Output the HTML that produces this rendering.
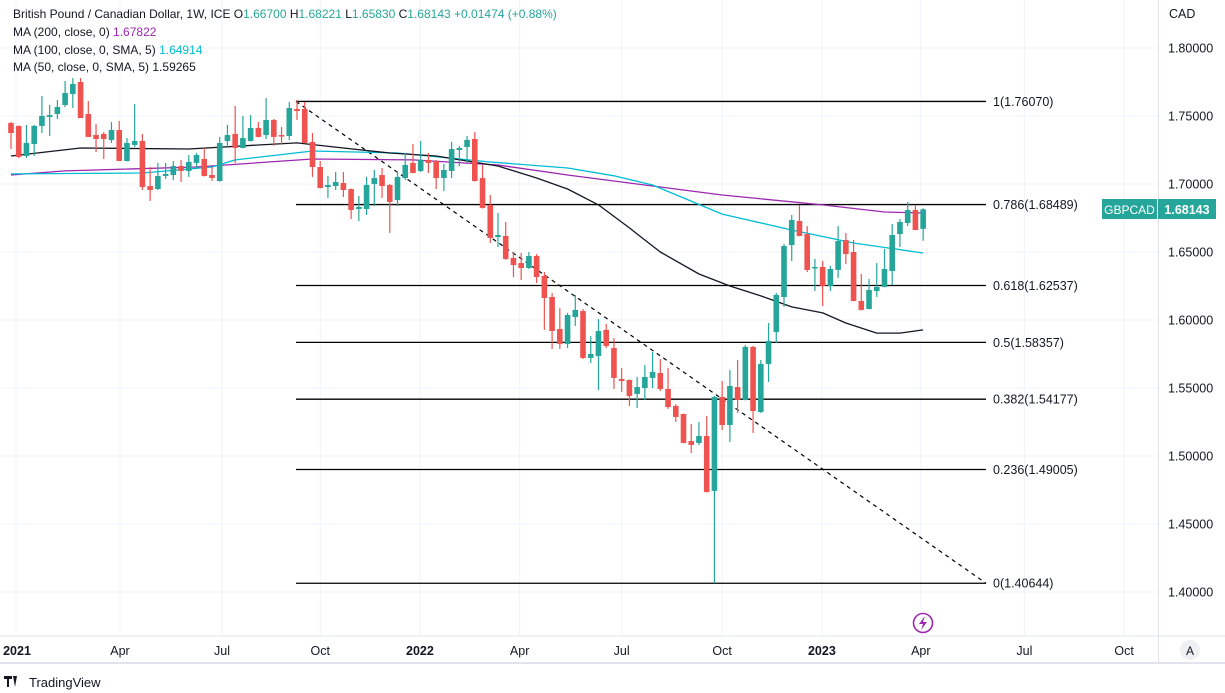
<!DOCTYPE html>
<html><head><meta charset="utf-8"><style>
html,body{margin:0;padding:0;background:#fff;width:1225px;height:693px;overflow:hidden;font-family:"Liberation Sans",sans-serif;}
svg text{font-family:"Liberation Sans",sans-serif;}
</style></head><body>
<svg id="chart" width="1225" height="693" viewBox="0 0 1225 693" xmlns="http://www.w3.org/2000/svg">
<g id="grid"></g>
<g id="fib"></g>
<g id="mas"></g>
<g id="candles"></g>
<g id="yaxis"></g>
<g id="xaxis"></g>
<g font-size="12" fill="#131722">
<text x="13" y="18">British Pound / Canadian Dollar, 1W, ICE  O<tspan fill="#26a69a">1.66700</tspan>  H<tspan fill="#26a69a">1.68221</tspan>  L<tspan fill="#26a69a">1.65830</tspan>  C<tspan fill="#26a69a">1.68143</tspan>  <tspan fill="#26a69a">+0.01474 (+0.88%)</tspan></text>
<text x="13" y="36">MA (200, close, 0)  <tspan fill="#9c27b0">1.67822</tspan></text>
<text x="13" y="54">MA (100, close, 0, SMA, 5)  <tspan fill="#00bcd4">1.64914</tspan></text>
<text x="13" y="71">MA (50, close, 0, SMA, 5)  1.59265</text>
</g>
<text x="1169" y="18" font-size="12.5" fill="#131722">CAD</text>
<rect x="1102" y="199" width="55" height="20" fill="#26a69a"/>
<text x="1129.5" y="214" font-size="12" fill="#fff" text-anchor="middle">GBPCAD</text>
<rect x="1158" y="199" width="58" height="20" fill="#26a69a"/>
<text x="1187" y="214" font-size="12.5" fill="#fff" text-anchor="middle" font-weight="bold">1.68143</text>
<g><circle cx="923" cy="623" r="9.5" fill="#fff" stroke="#9c27b0" stroke-width="1.6"/><path d="M925 616 L919 624 L923 624 L921 630 L927 622 L923 622 Z" fill="#9c27b0"/></g>
<g><circle cx="1190" cy="650" r="10" fill="#eef0f3"/><text x="1190" y="655" font-size="12" fill="#131722" text-anchor="middle">A</text></g>
<g><path d="M4 676 h8 v3 h-3 v8 h-2 v-8 h-3z M13 676 h4 l-2 11z" fill="#131722"/><text x="29" y="687" font-size="13" fill="#131722">TradingView</text></g>
</svg>
<script>
const opens=[1.7449,1.7427,1.7206,1.7294,1.7427,1.7493,1.7515,1.7581,1.7662,1.7750,1.7515,1.7360,1.7368,1.7324,1.7397,1.7169,1.7287,1.7316,1.6985,1.6963,1.7059,1.7066,1.7132,1.7096,1.7155,1.7184,1.7066,1.7022,1.7316,1.7368,1.7265,1.7316,1.7412,1.7360,1.7471,1.7360,1.7353,1.7552,1.7552,1.7309,1.7125,1.6978,1.6985,1.7007,1.6963,1.6816,1.6816,1.7000,1.7066,1.6993,1.6882,1.7044,1.7155,1.7096,1.7177,1.7169,1.7044,1.7096,1.7250,1.7272,1.7331,1.7044,1.6846,1.6610,1.6618,1.6456,1.6419,1.6382,1.6471,1.6324,1.6169,1.5934,1.5824,1.6022,1.6066,1.5721,1.5735,1.5927,1.5794,1.5566,1.5559,1.5456,1.5500,1.5574,1.5610,1.5493,1.5368,1.5309,1.5110,1.5096,1.5147,1.4743,1.5434,1.5228,1.5507,1.5412,1.5802,1.5324,1.5677,1.5912,1.6169,1.6551,1.6728,1.6632,1.6382,1.6390,1.6250,1.6368,1.6588,1.6500,1.6140,1.6081,1.6213,1.6243,1.6360,1.6632,1.6713,1.6809,1.6670];
const highs=[1.7455,1.7430,1.7434,1.7434,1.7647,1.7581,1.7618,1.7757,1.7779,1.7779,1.7610,1.7441,1.7382,1.7456,1.7463,1.7338,1.7588,1.7368,1.7125,1.7155,1.7155,1.7169,1.7177,1.7213,1.7228,1.7265,1.7125,1.7346,1.7434,1.7574,1.7500,1.7507,1.7456,1.7632,1.7478,1.7419,1.7603,1.7618,1.7603,1.7375,1.7169,1.7059,1.7088,1.7088,1.6966,1.6912,1.7052,1.7103,1.7118,1.7000,1.7088,1.7228,1.7294,1.7316,1.7228,1.7177,1.7147,1.7309,1.7280,1.7353,1.7382,1.7140,1.6919,1.6787,1.6721,1.6500,1.6493,1.6500,1.6485,1.6353,1.6199,1.6088,1.6052,1.6184,1.6081,1.5882,1.6007,1.5971,1.5868,1.5647,1.5562,1.5581,1.5669,1.5765,1.5713,1.5647,1.5382,1.5312,1.5235,1.5250,1.5294,1.5441,1.5551,1.5632,1.5706,1.5816,1.5809,1.5706,1.5978,1.6199,1.6559,1.6772,1.6846,1.6691,1.6449,1.6434,1.6397,1.6691,1.6640,1.6588,1.6338,1.6302,1.6419,1.6522,1.6706,1.6743,1.6868,1.6846,1.6822];
const lows=[1.7257,1.7191,1.7191,1.7206,1.7375,1.7353,1.7478,1.7566,1.7559,1.7485,1.7346,1.7235,1.7184,1.7302,1.7169,1.7165,1.7272,1.6956,1.6875,1.6956,1.7037,1.7029,1.7015,1.7052,1.7110,1.7055,1.7022,1.7018,1.7265,1.7155,1.7262,1.7313,1.7343,1.7331,1.7280,1.7294,1.7324,1.7471,1.7300,1.7052,1.6968,1.6897,1.6956,1.6904,1.6743,1.6728,1.6772,1.6838,1.6897,1.6640,1.6838,1.7029,1.7078,1.7088,1.7081,1.6963,1.6949,1.7044,1.7132,1.7155,1.7018,1.6820,1.6566,1.6537,1.6441,1.6316,1.6294,1.6375,1.6272,1.5927,1.5787,1.5787,1.5794,1.5956,1.5713,1.5684,1.5485,1.5794,1.5493,1.5471,1.5368,1.5353,1.5412,1.5500,1.5478,1.5346,1.5250,1.5093,1.5022,1.5081,1.4732,1.4064,1.5191,1.5103,1.5316,1.5409,1.5169,1.5316,1.5544,1.5831,1.6096,1.6434,1.6615,1.6353,1.6213,1.6103,1.6213,1.6309,1.6412,1.6137,1.6070,1.6078,1.6169,1.6240,1.6257,1.6537,1.6691,1.6660,1.6583];
const closes=[1.7375,1.7199,1.7302,1.7427,1.7500,1.7507,1.7566,1.7669,1.7735,1.7485,1.7346,1.7331,1.7331,1.7397,1.7169,1.7302,1.7316,1.6978,1.6956,1.7059,1.7074,1.7132,1.7096,1.7162,1.7213,1.7059,1.7044,1.7302,1.7360,1.7265,1.7338,1.7412,1.7346,1.7471,1.7346,1.7353,1.7559,1.7537,1.7302,1.7125,1.6971,1.6993,1.7015,1.6956,1.6809,1.6831,1.6993,1.7044,1.6985,1.6868,1.7052,1.7140,1.7081,1.7177,1.7155,1.7044,1.7103,1.7257,1.7265,1.7324,1.7022,1.6824,1.6603,1.6625,1.6449,1.6404,1.6382,1.6471,1.6316,1.6162,1.5919,1.5824,1.6037,1.6074,1.5721,1.5750,1.5919,1.5809,1.5574,1.5551,1.5441,1.5507,1.5581,1.5618,1.5493,1.5360,1.5287,1.5096,1.5081,1.5147,1.4735,1.5434,1.5228,1.5515,1.5412,1.5802,1.5331,1.5677,1.5846,1.6184,1.6544,1.6735,1.6618,1.6368,1.6390,1.6250,1.6375,1.6581,1.6485,1.6140,1.6074,1.6221,1.6243,1.6375,1.6625,1.6721,1.6809,1.6662,1.6814];
const ma50Idx=[0,9,23,32,37,43,49,55,63,68,72,76,80,84,89,93,97,101,105,108,112,115,118];
const ma50Val=[1.7206,1.7265,1.7257,1.7287,1.7302,1.7265,1.7228,1.7206,1.7132,1.7044,1.6963,1.6846,1.6677,1.6500,1.6338,1.6250,1.6177,1.6096,1.6052,1.5978,1.5904,1.5904,1.5927];
const ma100Idx=[0,17,26,29,39,50,62,67,72,78,83,92,101,109,118];
const ma100Val=[1.7074,1.7081,1.7125,1.7177,1.7243,1.7228,1.7162,1.7140,1.7118,1.7060,1.6993,1.6779,1.6662,1.6566,1.6493];
const ma200Idx=[0,7,24,39,52,63,72,92,105,113,118];
const ma200Val=[1.7066,1.7096,1.7125,1.7184,1.7177,1.7140,1.7066,1.6919,1.6846,1.6794,1.6787];
const fibRatios=["1","0.786","0.618","0.5","0.382","0.236","0"];
const fibPrices=[1.76070,1.68489,1.62537,1.58357,1.54177,1.49005,1.40644];
const yTicks=[1.80,1.75,1.70,1.65,1.60,1.55,1.50,1.45,1.40];
const xLabels=["2021","Apr","Jul","Oct","2022","Apr","Jul","Oct","2023","Apr","Jul","Oct"];
const xLabelWeeks=[0.65,14.1,27.3,40.0,52.9,65.8,79.0,92.0,104.9,117.7,131.1,144.0];

const NS="http://www.w3.org/2000/svg";
const yOf=p=>48+(1.8-p)*1360;
const xOf=i=>11+i*7.73;
function mk(tag,attrs,parent){const e=document.createElementNS(NS,tag);for(const k in attrs)e.setAttribute(k,attrs[k]);parent.appendChild(e);return e;}
const grid=document.getElementById('grid'),yaxis=document.getElementById('yaxis'),xaxis=document.getElementById('xaxis');
yTicks.forEach(t=>{const y=yOf(t);
 const l=mk('line',{x1:0,x2:1158,y1:y,y2:y,stroke:'#f0f3fa','stroke-width':1},grid);
 
 
 const tx=mk('text',{x:1168,y:y+4.5,'font-size':12.5,fill:'#131722'},yaxis);
 tx.textContent=t.toFixed(5);
 
 
});
xLabels.forEach((lab,k)=>{const x=xOf(xLabelWeeks[k]);
 const l=mk('line',{x1:x,x2:x,y1:0,y2:636,stroke:'#f0f3fa','stroke-width':1},grid);
 
 
 const tx=mk('text',{x:Math.max(x,17),y:655,'font-size':12.5,fill:'#131722','text-anchor':'middle','font-weight':(lab.length===4?'bold':'normal')},xaxis);
 tx.textContent=lab;
 
 
});
const ax1=mk('line',{x1:0,x2:1225,y1:636,y2:636,stroke:'#e0e3eb'},xaxis);


const ax2=mk('line',{x1:0,x2:1225,y1:663,y2:663,stroke:'#e0e3eb','stroke-width':2},xaxis);


const ax3=mk('line',{x1:1158.5,x2:1158.5,y1:0,y2:663,stroke:'#e0e3eb'},yaxis);


const fib=document.getElementById('fib');
const xStart=296,xEnd=986;
fibPrices.forEach((p,k)=>{const y=yOf(p);
 const l=mk('line',{x1:xStart,x2:xEnd,y1:y,y2:y,stroke:'#000','stroke-width':1.3},fib);
 
 
 const tx=mk('text',{x:993,y:y+4.5,'font-size':12.5,fill:'#131722'},fib);
 tx.textContent=fibRatios[k]+'('+p.toFixed(5)+')';
 
 
});
const tl=mk('line',{x1:xStart,y1:yOf(fibPrices[0]),x2:xEnd,y2:yOf(fibPrices[6]),stroke:'#000','stroke-width':1.2,'stroke-dasharray':'4 4'},fib);


const mas=document.getElementById('mas');
function ma(idx,val,col,name){const pts=idx.map((i,k)=>xOf(i).toFixed(1)+','+yOf(val[k]).toFixed(1)).join(' ');
 const pl=mk('polyline',{points:pts,fill:'none',stroke:col,'stroke-width':1.3,'stroke-linejoin':'round'},mas);
 
 }
ma(ma200Idx,ma200Val,'#9c27b0','ma200-line');
ma(ma100Idx,ma100Val,'#00bcd4','ma100-line');
ma(ma50Idx,ma50Val,'#131722','ma50-line');
const cg=document.getElementById('candles');
opens.forEach((o,i)=>{const c=closes[i],up=c>=o,col=up?'#26a69a':'#ef5350',x=xOf(i);
 const w=mk('line',{x1:x,x2:x,y1:yOf(highs[i]),y2:yOf(lows[i]),stroke:col,'stroke-width':1.2},cg);
 
 
 const top=yOf(Math.max(o,c)),h=Math.max(1.5,Math.abs(yOf(o)-yOf(c)));
 const b=mk('rect',{x:x-2.8,y:top,width:5.6,height:h,fill:col},cg);
 
 
});
</script>
</body></html>
